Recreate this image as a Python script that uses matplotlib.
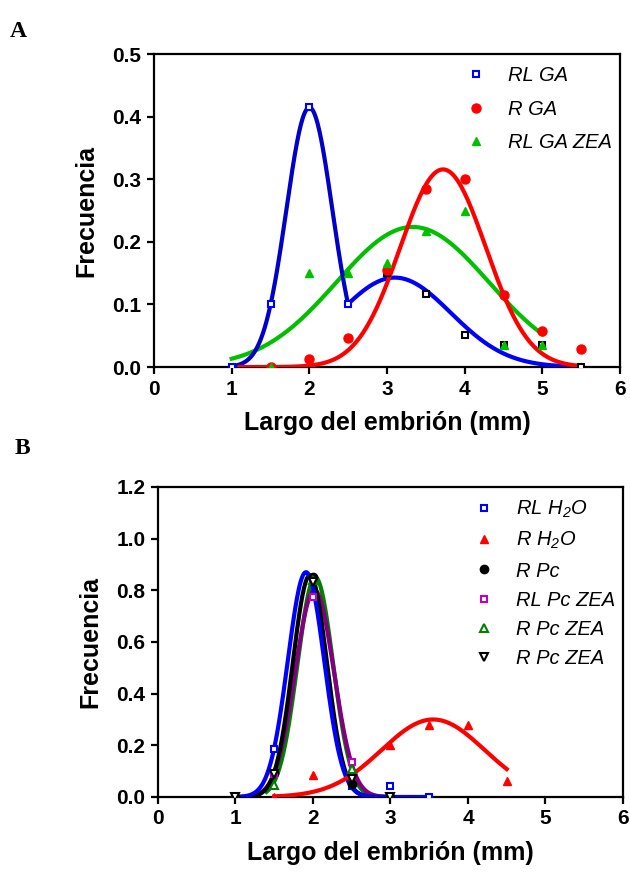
import numpy as np
import matplotlib.pyplot as plt

plt.rcParams['font.family'] = 'Liberation Sans'
plt.rcParams['mathtext.fontset'] = 'custom'
plt.rcParams['mathtext.it'] = 'Liberation Sans:italic'
plt.rcParams['mathtext.rm'] = 'Liberation Sans:italic'

# ---- Panel A: measured frequencies ----
rl_ga_x = [1.0, 1.5, 2.0, 2.5]
rl_ga_y = [0.0, 0.10, 0.415, 0.10]
rl_ga_tail_x = [3.0, 3.5, 4.0, 4.5, 5.0, 5.5]
rl_ga_tail_y = [0.150, 0.117, 0.052, 0.035, 0.035, 0.0]
r_ga_x = [1.5, 2.0, 2.5, 3.0, 3.5, 4.0, 4.5, 5.0, 5.5]
r_ga_y = [0.0, 0.013, 0.046, 0.155, 0.285, 0.300, 0.115, 0.058, 0.029]
rl_ga_zea_x = [1.5, 2.0, 2.5, 3.0, 3.5, 4.0, 4.5, 5.0]
rl_ga_zea_y = [0.0, 0.151, 0.151, 0.167, 0.218, 0.250, 0.035, 0.035]

# Gaussian fits: (amplitude, mean, sd, x from, x to)
fit_rl_ga_1 = (0.415, 2.00, 0.296, 1.0, 2.5)
fit_rl_ga_2 = (0.143, 3.10, 0.72, 2.5, 5.5)
fit_r_ga = (0.316, 3.72, 0.55, 1.1, 5.5)
fit_rl_ga_zea = (0.224, 3.33, 0.98, 1.0, 5.0)

# ---- Panel B: measured frequencies ----
rl_h2o_x = [1.0, 1.5, 2.0, 2.5, 3.0, 3.5]
rl_h2o_y = [0.0, 0.186, 0.84, 0.043, 0.043, 0.0]
r_h2o_x = [1.5, 2.0, 2.5, 3.0, 3.5, 4.0, 4.5]
r_h2o_y = [0.0, 0.085, 0.07, 0.20, 0.28, 0.28, 0.062]
r_pc_x = [1.0, 1.5, 2.0, 2.5, 3.0]
r_pc_y = [0.0, 0.093, 0.85, 0.05, 0.0]
rl_pc_zea_x = [1.5, 2.0, 2.5]
rl_pc_zea_y = [0.09, 0.775, 0.135]
r_pc_zea_x = [1.0, 1.5, 2.0, 2.5, 3.0]
r_pc_zea_y = [0.0, 0.047, 0.84, 0.11, 0.0]
r_pc_zea2_x = [1.0, 1.5, 2.0, 2.5, 3.0]
r_pc_zea2_y = [0.0, 0.09, 0.83, 0.07, 0.0]

fit_rl_h2o = (0.87, 1.91, 0.235, 1.0, 3.5)
fit_r_h2o = (0.30, 3.55, 0.665, 1.5, 4.5)
fit_r_pc = (0.858, 1.96, 0.22, 1.0, 3.0)
fit_rl_pc_zea = (0.80, 2.02, 0.25, 1.3, 3.0)
fit_r_pc_zea = (0.85, 2.03, 0.23, 1.4, 3.0)


def fit_curve(ax, p, color, z):
    a, m, s, x0, x1 = p
    xx = np.linspace(x0, x1, 200)
    ax.plot(xx, a * np.exp(-(xx - m) ** 2 / (2 * s ** 2)), color=color, lw=3.0, zorder=z)


def style_axes(ax, ymax, ystep):
    ax.set_xlim(0, 6)
    ax.set_ylim(0, ymax)
    ax.set_xticks(range(0, 7))
    ax.set_yticks(np.arange(0, ymax + 1e-9, ystep))
    ax.set_yticklabels([f'{v:.1f}' for v in np.arange(0, ymax + 1e-9, ystep)])
    for sp in ax.spines.values():
        sp.set_linewidth(1.6)
    ax.tick_params(direction='out', length=5, width=1.6, labelsize=15, pad=4)
    for lab in ax.get_xticklabels() + ax.get_yticklabels():
        lab.set_fontweight('bold')
    ax.set_xlabel('Largo del embrión (mm)', fontsize=18, fontweight='bold', labelpad=9)
    ax.set_ylabel('Frecuencia', fontsize=18, fontweight='bold', labelpad=10)


fig = plt.figure(figsize=(6.3, 8.76), dpi=100)

# ---- Panel A ----
axA = fig.add_axes([0.2444, 0.581, 0.740, 0.357])
fit_curve(axA, fit_rl_ga_zea, '#00C000', 2)
fit_curve(axA, fit_rl_ga_1, '#0000C8', 3)
fit_curve(axA, fit_rl_ga_2, '#0000FF', 3)
fit_curve(axA, fit_r_ga, '#FF0000', 4)
hA1, = axA.plot(rl_ga_x, rl_ga_y, 's', ms=5, mfc='white', mec='#0000FF', mew=1.5, ls='none', zorder=5, label='RL GA')
axA.plot(rl_ga_tail_x, rl_ga_tail_y, 's', ms=5, mfc='white', mec='black', mew=1.5, ls='none', zorder=5)
hA2, = axA.plot(r_ga_x, r_ga_y, 'o', ms=6.5, color='#FF0000', ls='none', zorder=5, label='R GA')
hA3, = axA.plot(rl_ga_zea_x, rl_ga_zea_y, '^', ms=6, color='#00C000', ls='none', zorder=5, label='RL GA ZEA')
style_axes(axA, 0.5, 0.1)
legA = axA.legend(handles=[hA1, hA2, hA3], loc='upper left', bbox_to_anchor=(0.63, 1.02),
                  frameon=False, handlelength=1.0, handletextpad=1.1, labelspacing=0.72,
                  prop={'style': 'italic', 'size': 14.5})

# ---- Panel B ----
axB = fig.add_axes([0.2508, 0.0902, 0.738, 0.354])
fit_curve(axB, fit_r_pc_zea, '#008000', 2)
fit_curve(axB, fit_rl_pc_zea, '#800080', 3)
fit_curve(axB, fit_r_pc, 'black', 4)
fit_curve(axB, fit_rl_h2o, '#0000FF', 5)
fit_curve(axB, fit_r_h2o, '#FF0000', 6)
hB1, = axB.plot(rl_h2o_x, rl_h2o_y, 's', ms=5, mfc='white', mec='#0000FF', mew=1.5, ls='none', zorder=7, label='RL H$_2$O')
hB2, = axB.plot(r_h2o_x, r_h2o_y, '^', ms=6, color='#FF0000', ls='none', zorder=7, label='R H$_2$O')
hB3, = axB.plot(r_pc_x, r_pc_y, 'o', ms=6, color='black', ls='none', zorder=7, label='R Pc')
hB4, = axB.plot(rl_pc_zea_x, rl_pc_zea_y, 's', ms=5, mfc='white', mec='#C000C0', mew=1.5, ls='none', zorder=7, label='RL Pc ZEA')
hB5, = axB.plot(r_pc_zea_x, r_pc_zea_y, '^', ms=6, mfc='white', mec='#008000', mew=1.5, ls='none', zorder=7, label='R Pc ZEA')
hB6, = axB.plot(r_pc_zea2_x, r_pc_zea2_y, 'v', ms=6, mfc='white', mec='black', mew=1.5, ls='none', zorder=7, label='R Pc ZEA')
style_axes(axB, 1.2, 0.2)
legB = axB.legend(handles=[hB1, hB2, hB3, hB4, hB5, hB6], loc='upper left', bbox_to_anchor=(0.64, 1.02),
                  frameon=False, handlelength=1.0, handletextpad=1.1, labelspacing=0.5,
                  prop={'style': 'italic', 'size': 14.5})

fig.text(0.016, 0.958, 'A', fontsize=17, fontweight='bold', family='Liberation Serif')
fig.text(0.024, 0.482, 'B', fontsize=17, fontweight='bold', family='Liberation Serif')

fig.savefig('out.png', dpi=100)
